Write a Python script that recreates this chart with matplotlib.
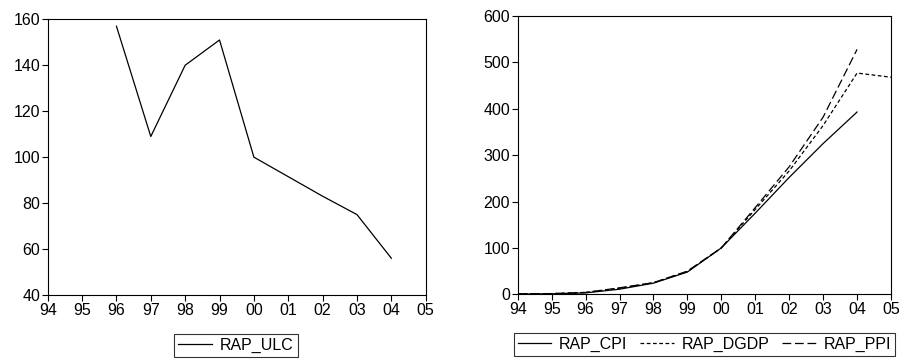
import numpy as np
import matplotlib
matplotlib.use('Agg')
from matplotlib import pyplot as plt

plt.rcParams['font.family'] = ['Liberation Sans', 'DejaVu Sans']
plt.rcParams['font.size'] = 11.5

# x axis: years 1994..2005, labelled with two digits
tick_years = list(range(1994, 2006))
tick_labels = ['94', '95', '96', '97', '98', '99', '00', '01', '02', '03', '04', '05']

# left panel
ulc_years = [1996, 1997, 1998, 1999, 2000, 2001, 2002, 2003, 2004]
rap_ulc = [157, 109, 140, 151, 100, 91.5, 83, 75, 56]

# right panel
cpi_years = list(range(1994, 2005))
rap_cpi = [0.5, 1, 3, 11, 24, 48, 100, 175, 252, 325, 393]
dgdp_years = list(range(1994, 2006))
rap_dgdp = [1, 1.5, 4, 13, 25, 49, 100, 183, 266, 364, 477, 468]
ppi_years = list(range(1994, 2005))
rap_ppi = [1, 1.5, 4, 14, 25, 50, 100, 187, 275, 382, 528]

fig = plt.figure(figsize=(9.02, 3.6), dpi=100)
ax1 = fig.add_axes([47.7 / 902, 1 - 295 / 360, (425.7 - 47.7) / 902, (295 - 19.3) / 360])
ax2 = fig.add_axes([517.7 / 902, 1 - 294.3 / 360, (891 - 517.7) / 902, (294.3 - 16) / 360])


def style_axis(ax):
    ax.set_xlim(1994, 2005)
    ax.set_xticks(tick_years)
    ax.set_xticklabels(tick_labels)
    ax.tick_params(direction='out', length=4, width=0.8, top=False, right=False, pad=1.5)
    for s in ax.spines.values():
        s.set_linewidth(0.8)


ax1.plot(ulc_years, rap_ulc, color='black', lw=0.9, label='RAP_ULC')
style_axis(ax1)
ax1.set_ylim(40, 160)
ax1.set_yticks([40, 60, 80, 100, 120, 140, 160])

ax2.plot(cpi_years, rap_cpi, color='black', lw=0.9, label='RAP_CPI')
ax2.plot(dgdp_years, rap_dgdp, color='black', lw=0.9, dashes=(3, 2), label='RAP_DGDP')
ax2.plot(ppi_years, rap_ppi, color='black', lw=0.9, dashes=(7, 3), label='RAP_PPI')
style_axis(ax2)
ax2.set_ylim(0, 600)
ax2.set_yticks([0, 100, 200, 300, 400, 500, 600])

leg_kw = dict(loc='upper center', ncol=3, frameon=True, fancybox=False,
              handlelength=2.1, handletextpad=0.5, columnspacing=0.8,
              borderpad=0.25, borderaxespad=0)
l1 = fig.legend(handles=ax1.get_lines(), bbox_to_anchor=(236 / 902, 1 - 334 / 360), **leg_kw)
l2 = fig.legend(handles=ax2.get_lines(), bbox_to_anchor=(704.5 / 902, 1 - 333 / 360), **leg_kw)
for leg in (l1, l2):
    leg.get_frame().set_edgecolor('black')
    leg.get_frame().set_linewidth(0.8)

fig.savefig('out.png', dpi=100)
